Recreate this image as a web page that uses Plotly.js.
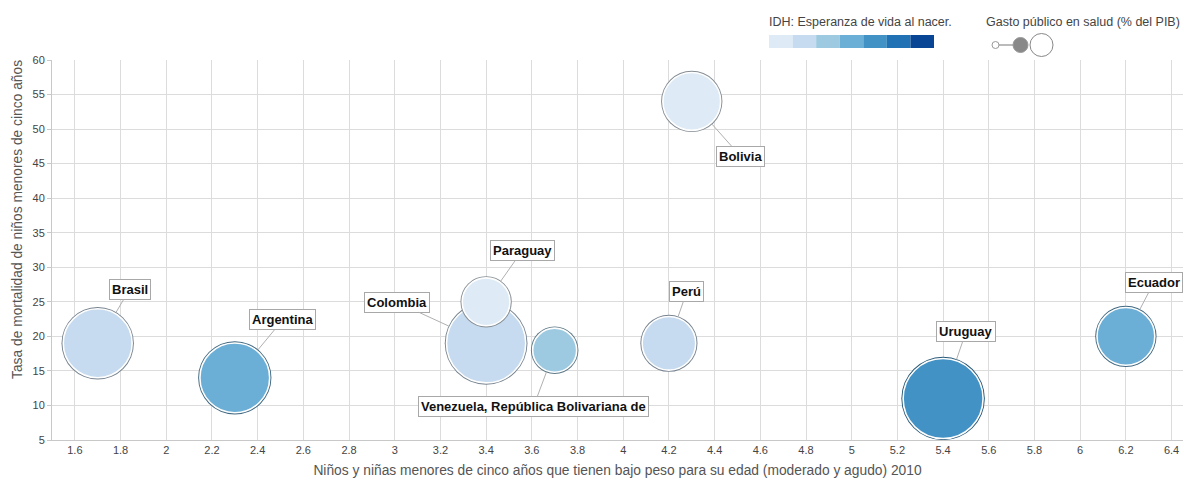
<!DOCTYPE html>
<html>
<head>
<meta charset="utf-8">
<script src="https://cdn.plot.ly/plotly-3.0.1.min.js"></script>
<style>html,body{margin:0;padding:0;background:#fff;}#chart{width:1184px;height:481px;}</style>
</head>
<body>
<div id="chart"></div>
<script>
// ---- data ----
const paises = ['Brasil','Argentina','Colombia','Paraguay','Venezuela, República Bolivariana de','Bolivia','Perú','Uruguay','Ecuador'];
const bajoPeso = [1.7, 2.3, 3.4, 3.4, 3.7, 4.3, 4.2, 5.4, 6.2];
const mortalidad = [19, 14, 19, 25, 18, 54, 19, 11, 20];
const nivelEsperanza = [1, 3, 1, 0, 2, 0, 1, 4, 3];
const gastoSalud = [4.1, 4.2, 5.4, 2.0, 1.7, 2.9, 2.5, 5.5, 2.9];
const xTicks = [1.6,1.8,2,2.2,2.4,2.6,2.8,3,3.2,3.4,3.6,3.8,4,4.2,4.4,4.6,4.8,5,5.2,5.4,5.6,5.8,6,6.2,6.4];
const yTicks = [5,10,15,20,25,30,35,40,45,50,55,60];

// ---- styles ----
const palette = ['#deebf7','#c6dbef','#9ecae1','#6baed6','#4292c6','#2171b5','#084594'];
const labelOffsets = [[32,-54],[48,-58],[-89,-41],[36,-51],[-21,56],[49,55],[18,-52],[23,-67],[28,-54]];
const FONT = 'Liberation Sans, Arial, sans-serif';
const K = 81 / Math.sqrt(5.5);

function darken(hex, f) {
  const n = parseInt(hex.slice(1), 16);
  const r = Math.round(((n >> 16) & 255) * f), g = Math.round(((n >> 8) & 255) * f), b = Math.round((n & 255) * f);
  return 'rgb(' + r + ',' + g + ',' + b + ')';
}

const traces = [];
const annotations = [];
paises.forEach((p, i) => {
  const d = K * Math.sqrt(gastoSalud[i]);
  const fill = palette[nivelEsperanza[i]];
  traces.push({type:'scatter', mode:'markers', x:[bajoPeso[i]], y:[mortalidad[i]], hoverinfo:'skip',
    marker:{size:d+2.5, color:darken(fill, 0.6), line:{width:0}}, cliponaxis:false, showlegend:false});
  traces.push({type:'scatter', mode:'markers', x:[bajoPeso[i]], y:[mortalidad[i]], name:p,
    marker:{size:d-1, color:fill, line:{width:1.6, color:'#ffffff'}}, cliponaxis:false, showlegend:false});
  annotations.push({x:bajoPeso[i], y:mortalidad[i], xref:'x', yref:'y', text:p,
    showarrow:true, arrowhead:0, arrowwidth:1, arrowcolor:'#b0b0b0',
    ax:labelOffsets[i][0], ay:labelOffsets[i][1], standoff:d/2+1,
    font:{family:FONT, size:13, color:'#111', weight:'bold'},
    bgcolor:'#ffffff', bordercolor:'#a8a8a8', borderwidth:1, borderpad:2});
});

// y-axis title as annotation
annotations.push({xref:'paper', yref:'paper', x:(17-52)/1131, y:(440-220)/380, text:'Tasa de mortalidad de niños menores de cinco años',
  textangle:-90, showarrow:false, font:{family:FONT, size:13.8, color:'#555'}, xanchor:'center', yanchor:'middle'});

// legends
function px(x){return (x-52)/1131;}
function py(y){return (440-y)/380;}
annotations.push({xref:'paper', yref:'paper', x:px(767), y:py(22), xanchor:'left', yanchor:'middle', showarrow:false,
  text:'IDH: Esperanza de vida al nacer.', font:{family:FONT, size:12.5, color:'#444'}});
annotations.push({xref:'paper', yref:'paper', x:px(984), y:py(22), xanchor:'left', yanchor:'middle', showarrow:false,
  text:'Gasto público en salud (% del PIB)', font:{family:FONT, size:12.5, color:'#444'}});

const shapes = [];
const sw = (934-769)/7;
palette.forEach((c, i) => {
  shapes.push({type:'rect', xref:'paper', yref:'paper', x0:px(769+i*sw), x1:px(769+(i+1)*sw), y0:py(48), y1:py(35),
    fillcolor:c, line:{width:0}});
});
shapes.push({type:'line', xref:'paper', yref:'paper', x0:px(998), x1:px(1014), y0:py(45), y1:py(45), line:{color:'#bbb', width:2}});
shapes.push({type:'circle', xref:'paper', yref:'paper', x0:px(992), x1:px(999), y0:py(48.5), y1:py(41.5), fillcolor:'#fff', line:{color:'#999', width:1}});
shapes.push({type:'circle', xref:'paper', yref:'paper', x0:px(1013), x1:px(1028), y0:py(52.5), y1:py(37.5), fillcolor:'#888', line:{color:'#999', width:1}});
shapes.push({type:'circle', xref:'paper', yref:'paper', x0:px(1030), x1:px(1053), y0:py(56.5), y1:py(33.5), fillcolor:'#fff', line:{color:'#888', width:1}});

const layout = {
  width:1184, height:481,
  margin:{l:52, r:1, t:60, b:41},
  paper_bgcolor:'#ffffff', plot_bgcolor:'#ffffff',
  font:{family:FONT, size:11, color:'#444'},
  xaxis:{range:[1.5, 6.45], tickvals:xTicks, ticktext:xTicks.map(String), showgrid:true, gridcolor:'#dcdcdc', gridwidth:1,
    zeroline:false, showline:true, linecolor:'#c8c8c8', ticks:'', tickfont:{size:11, color:'#444'},
    title:{text:'Niños y niñas menores de cinco años que tienen bajo peso para su edad (moderado y agudo) 2010', font:{size:13.8, color:'#555'}, standoff:10}},
  yaxis:{range:[5, 60], tickvals:yTicks, ticktext:yTicks.map(String), showgrid:true, gridcolor:'#dcdcdc', gridwidth:1,
    zeroline:false, showline:true, linecolor:'#c8c8c8', ticks:'outside', ticklen:4, tickcolor:'#c8c8c8', tickfont:{size:11, color:'#444'}},
  annotations:annotations,
  shapes:shapes,
  showlegend:false,
  hovermode:false
};

Plotly.newPlot('chart', traces, layout, {displayModeBar:false, responsive:false});
</script>
</body>
</html>
